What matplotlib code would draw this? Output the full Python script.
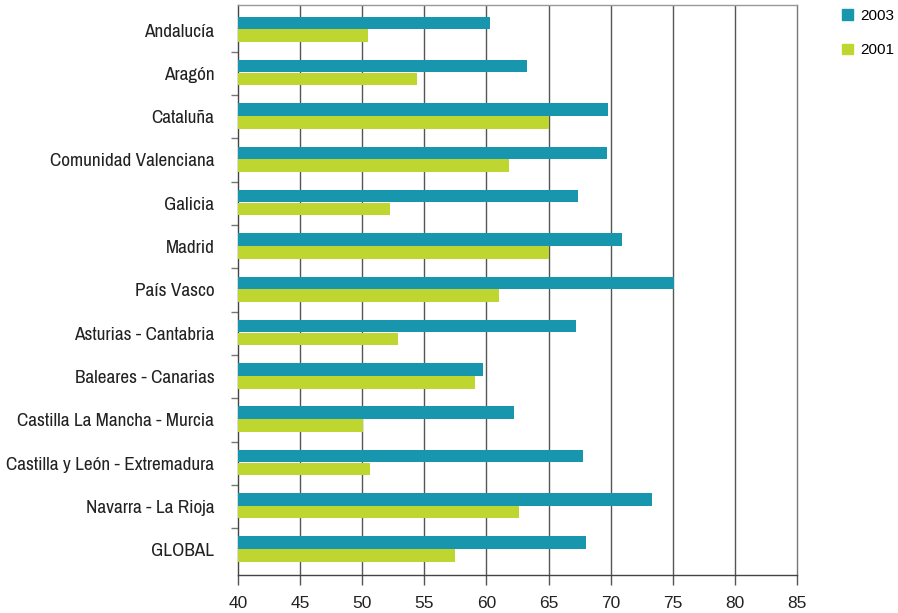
import matplotlib
matplotlib.use('Agg')
import matplotlib.pyplot as plt
from matplotlib import font_manager
import numpy as np
from matplotlib.patches import Patch

regions = ['Andalucía', 'Aragón', 'Cataluña', 'Comunidad Valenciana', 'Galicia',
           'Madrid', 'País Vasco', 'Asturias - Cantabria', 'Baleares - Canarias',
           'Castilla La Mancha - Murcia', 'Castilla y León - Extremadura',
           'Navarra - La Rioja', 'GLOBAL']
values_2003 = [60.3, 63.3, 69.8, 69.7, 67.4, 70.9, 75.1, 67.2, 59.7, 62.2, 67.8, 73.3, 68.0]
values_2001 = [50.5, 54.4, 65.0, 61.8, 52.2, 65.0, 61.0, 52.9, 59.1, 50.1, 50.6, 62.6, 57.5]
x_ticks = [40, 45, 50, 55, 60, 65, 70, 75, 80, 85]

color_2003 = '#1896ad'
color_2001 = '#bfd630'

plt.rcParams['font.family'] = ['Liberation Sans', 'DejaVu Sans']

# The category labels use a condensed face; take one if installed
narrow = sorted(set(f.name for f in font_manager.fontManager.ttflist
                    if 'Narrow' in f.name or 'Condensed' in f.name))
if narrow:
    label_font = {'family': [narrow[0], 'DejaVu Sans'], 'size': 13.8}
else:
    label_font = {'family': ['Liberation Sans', 'DejaVu Sans'], 'size': 10.6}

fig = plt.figure(figsize=(8.98, 6.13), dpi=100)
ax = fig.add_axes([0.265, 0.062, 0.6225, 0.930])

# Bars (left edge at 40, axis start)
y = np.arange(len(regions))
h = 0.29
ax.barh(y - 0.165, np.array(values_2003) - 40, left=40, height=h, color=color_2003, zorder=3)
ax.barh(y + 0.13, np.array(values_2001) - 40, left=40, height=h, color=color_2001, zorder=3)

# Axes limits
ax.set_xlim(40, 85)
ax.set_ylim(12.58, -0.58)

# Vertical gridlines
for xv in x_ticks[1:-1]:
    ax.axvline(xv, color='#555555', lw=1.0, zorder=1)

# Spines
ax.spines['top'].set_color('#999999')
ax.spines['right'].set_color('#777777')
ax.spines['left'].set_color('#444444')
ax.spines['bottom'].set_color('#444444')
for s in ax.spines.values():
    s.set_linewidth(1.0)

# X ticks
ax.set_xticks(x_ticks)
ax.set_xticklabels([str(v) for v in x_ticks], fontsize=12.5, color='#222222')
ax.tick_params(axis='x', direction='out', length=7, width=1, color='#555555', pad=8)

# Y ticks: labels at centres, tick marks at boundaries
ax.set_yticks(y)
ax.set_yticklabels(regions, fontdict=label_font, color='#222222')
ax.tick_params(axis='y', which='major', length=0, pad=17)
ax.set_yticks(np.arange(len(regions) - 1) + 0.5, minor=True)
ax.tick_params(axis='y', which='minor', direction='out', length=5, width=1, color='#777777')

# Legend
handles = [Patch(color=color_2003, label='2003'), Patch(color=color_2001, label='2001')]
fig.legend(handles=handles, loc='upper left', bbox_to_anchor=(0.926, 1.003), frameon=False,
           fontsize=11, handlelength=0.7, handleheight=0.7, labelspacing=1.35, handletextpad=0.45,
           borderaxespad=0.3)

fig.savefig('out.png', dpi=100)
